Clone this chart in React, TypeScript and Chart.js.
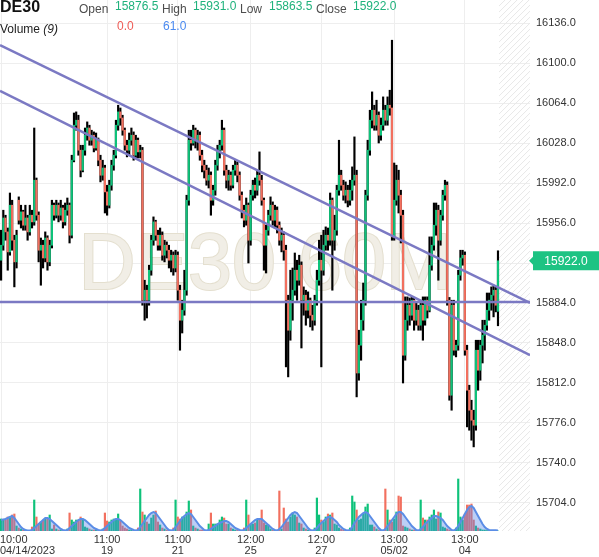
import React, { useEffect, useRef } from 'react';
import { Chart, registerables } from 'chart.js';

Chart.register(...registerables);

const FONT = '"Liberation Sans", Arial, Helvetica, sans-serif';

const symbol = 'DE30';
const watermark = 'DE30 60M';

// Hourly candles, 04/14/2023 10:00 onward
const opens = [
  15922.5, 15936, 15960.5, 15948, 15930, 15972, 15940.5, 15921, 15976.5, 15958.5,
  15966, 15954, 15960.5, 15948, 15963, 15957, 15994.5, 15963, 15931.5, 15936,
  15924.5, 15942.5, 15921, 15936, 15972, 15963, 15972, 15963, 15969.5, 15957,
  15967.5, 15972, 15945, 16012.5, 16044, 16048.5, 16021.5, 16003.5, 16021.5, 16035,
  16041.5, 16030.5, 16035, 16023.5, 16030.5, 16012.5, 15999, 16005.5, 15984, 15972,
  15990, 16008, 16017, 16044, 16056, 16050.5, 16039.5, 16026, 16021.5, 16030.5,
  16035, 16017, 16030.5, 16020, 16021.5, 15886.5, 15895.5, 15886.5, 15913.5, 15940.5,
  15957, 15945, 15936, 15945, 15927, 15936, 15931.5, 15922.5, 15927, 15915.5,
  15927, 15895.5, 15868.5, 15877.5, 15895.5, 15976.5, 16030.5, 16028, 16039.5, 16030.5,
  16035, 16017, 16008, 16003.5, 15994.5, 15999, 15976.5, 15985.5, 16008, 16021.5,
  16026, 16039.5, 16003.5, 15994.5, 15999, 15990, 16003.5, 16008, 15999, 15981,
  15967.5, 15958.5, 15972, 15940.5, 15981, 15990, 15985.5, 15999, 15994.5, 15976.5,
  15936, 15949.5, 15963, 15972, 15958.5, 15967.5, 15954, 15940.5, 15945, 15931.5,
  15886.5, 15859.5, 15886.5, 15895.5, 15913.5, 15904.5, 15918, 15886.5, 15891, 15877.5,
  15886.5, 15873, 15868.5, 15886.5, 15904.5, 15922.5, 15913.5, 15936, 15945, 15940.5,
  15976.5, 15940.5, 15949.5, 15985.5, 15999, 15990, 15981, 15985.5, 15976.5, 15985.5,
  15994.5, 15999, 15821, 15846, 15868.5, 15886.5, 15981, 16021.5, 16048.5, 16057.5,
  16044, 16053, 16035, 16044, 16057.5, 16048.5, 16062, 16059.5, 15943.5, 15976.5,
  15994.5, 15981, 15963, 15837, 15868.5, 15882, 15873, 15886.5, 15868.5, 15877.5,
  15864, 15882, 15868.5, 15886.5, 15877.5, 15918, 15936, 15954, 15967.5, 15940.5,
  15963, 15981, 15990, 15886.5, 15801, 15882, 15841.5, 15846, 15909, 15924.5,
  15927, 15841.5, 15805.5, 15787.5, 15778.5, 15774, 15841.5, 15823.5, 15846, 15855,
  15864, 15877.5, 15886.5, 15891, 15895.5, 15876.5,
];

const highs = [
  15949.5, 15967.5, 15963, 15951.5, 15983, 15976.5, 15945, 15949.5, 15979.5, 15972,
  15967.5, 15972, 15963, 15972, 15967.5, 16041.5, 15996.5, 15966, 15942.5, 15940.5,
  15948, 15944.5, 15940.5, 15976.5, 15974, 15976.5, 15974, 15976.5, 15972, 15974,
  15978.5, 15974, 16017, 16055, 16056, 16053, 16026, 16026, 16041.5, 16047,
  16044, 16039.5, 16038, 16037, 16032.5, 16017, 16012.5, 16008, 15990, 15994.5,
  16012.5, 16021.5, 16048.5, 16062, 16059.5, 16053, 16041.5, 16030.5, 16037, 16041.5,
  16038, 16035, 16032.5, 16026, 16024, 15904.5, 15900, 15918, 15945, 15961.5,
  15958.5, 15949.5, 15951.5, 15948, 15940.5, 15939, 15936, 15931.5, 15930, 15931.5,
  15930, 15900, 15886.5, 15913.5, 15981, 16039.5, 16039.5, 16044, 16041.5, 16039.5,
  16038, 16021.5, 16012.5, 16008, 16005.5, 16002, 15990, 16012.5, 16026, 16030.5,
  16048.5, 16041.5, 16008, 16003.5, 16002, 16008, 16012.5, 16011, 16002, 15984,
  15972, 15978.5, 15974, 15985.5, 15994.5, 15996.5, 16003.5, 16020, 15999, 15978.5,
  15954, 15967.5, 15979.5, 15975, 15972, 15970.5, 15957, 15951.5, 15948, 15936,
  15891, 15913.5, 15915.5, 15929, 15922.5, 15927, 15921, 15898.5, 15895.5, 15894,
  15888.5, 15882, 15891, 15913.5, 15940.5, 15945, 15949.5, 15952.5, 15951.5, 15983,
  15978.5, 15963, 15990, 16030.5, 16003.5, 15994.5, 15993, 15990, 15994.5, 16006.5,
  16033.5, 16003.5, 15859.5, 15886.5, 15902, 15985.5, 16030.5, 16057.5, 16074, 16062,
  16066.5, 16056, 16050.5, 16069.5, 16062, 16069.5, 16075.5, 16120.5, 16010, 16008,
  16003.5, 15985.5, 15967.5, 15889.5, 15889.5, 15888.5, 15889.5, 15889, 15884, 15882,
  15886.5, 15889.5, 15889.5, 15889.5, 15943.5, 15943.5, 15974, 15974, 15972, 15967.5,
  15985.5, 15994.5, 15993, 15889, 15886.5, 15886.5, 15850.5, 15913.5, 15931.5, 15931.5,
  15930, 15846, 15810, 15796.5, 15787.5, 15850.5, 15850.5, 15850.5, 15868.5, 15868.5,
  15893, 15893, 15898.5, 15900, 15898.5, 15931,
];

const lows = [
  15904.5, 15931.5, 15940.5, 15913.5, 15927, 15931.5, 15898.5, 15915.5, 15955, 15951.5,
  15949.5, 15949.5, 15940.5, 15945, 15951.5, 15954, 15958.5, 15921, 15900, 15915.5,
  15921, 15913.5, 15917.5, 15933.5, 15958.5, 15960.5, 15957, 15958.5, 15951.5, 15954,
  15963, 15938, 15942.5, 16011, 16039.5, 16017, 15997.5, 16002, 16017, 16030.5,
  16026, 16026, 16020, 16021.5, 16007.5, 15993, 15994.5, 15965, 15963, 15969.5,
  15985.5, 16003.5, 16014.5, 16039.5, 16044, 16035, 16021.5, 16015.5, 16017, 16026,
  16012.5, 16014.5, 16014.5, 16014.5, 15882, 15868.5, 15870.5, 15882, 15909, 15936,
  15940.5, 15931.5, 15931.5, 15922.5, 15921, 15924.5, 15915.5, 15912, 15909, 15912,
  15886.5, 15841.5, 15857, 15873, 15891, 15972, 16021.5, 16026, 16023.5, 16021.5,
  16012.5, 16002, 15996.5, 15990, 15987.5, 15963, 15972, 15981, 16003.5, 16014.5,
  16021.5, 15999, 15987.5, 15985.5, 15985.5, 15987.5, 15999, 15993, 15976.5, 15960.5,
  15952.5, 15954, 15920, 15936, 15976.5, 15978.5, 15981, 15990, 15972, 15913.5,
  15911, 15945, 15958.5, 15954, 15951.5, 15947, 15936, 15930, 15922.5, 15826.5,
  15817.5, 15850.5, 15868.5, 15891, 15886.5, 15900, 15843.5, 15873, 15864, 15870.5,
  15862.5, 15859.5, 15864, 15882, 15900, 15826.5, 15909, 15931.5, 15931.5, 15936,
  15895.5, 15931.5, 15945, 15981, 15985.5, 15976.5, 15974, 15970.5, 15972, 15976.5,
  15990, 15799.5, 15814.5, 15832.5, 15859.5, 15882, 15976.5, 16017, 16041.5, 16039.5,
  16039.5, 16028, 16030.5, 16039.5, 16044, 16044, 16053, 15940.5, 15940.5, 15972,
  15965, 15938, 15812, 15832.5, 15859.5, 15864, 15868.5, 15859.5, 15864, 15859.5,
  15859.5, 15850.5, 15864, 15870.5, 15876, 15913.5, 15931.5, 15945, 15904.5, 15936,
  15958.5, 15976.5, 15882, 15796.5, 15787.5, 15837, 15835.5, 15841.5, 15904.5, 15918,
  15837, 15772.5, 15769.5, 15760.5, 15754.5, 15769.5, 15805.5, 15814.5, 15830, 15841.5,
  15859.5, 15868.5, 15877.5, 15871.5, 15876, 15863.5,
];

const closes = [
  15936, 15960.5, 15948, 15930, 15972, 15940.5, 15921, 15945, 15958.5, 15966,
  15954, 15960.5, 15948, 15963, 15957, 15994.5, 15963, 15931.5, 15936, 15924.5,
  15942.5, 15921, 15936, 15972, 15963, 15972, 15963, 15969.5, 15957, 15967.5,
  15972, 15945, 16012.5, 16044, 16048.5, 16021.5, 16003.5, 16021.5, 16035, 16041.5,
  16030.5, 16035, 16023.5, 16030.5, 16012.5, 15999, 16005.5, 15984, 15972, 15990,
  16008, 16017, 16044, 16056, 16050.5, 16039.5, 16026, 16021.5, 16030.5, 16035,
  16017, 16030.5, 16020, 16021.5, 15886.5, 15895.5, 15886.5, 15913.5, 15940.5, 15957,
  15945, 15936, 15945, 15927, 15936, 15931.5, 15922.5, 15927, 15915.5, 15927,
  15895.5, 15868.5, 15877.5, 15895.5, 15976.5, 16030.5, 16028, 16039.5, 16030.5, 16035,
  16017, 16008, 16003.5, 15994.5, 15999, 15976.5, 15985.5, 16008, 16021.5, 16026,
  16039.5, 16003.5, 15994.5, 15999, 15990, 16003.5, 16008, 15999, 15981, 15967.5,
  15958.5, 15972, 15940.5, 15981, 15990, 15985.5, 15999, 15994.5, 15976.5, 15936,
  15949.5, 15963, 15972, 15958.5, 15967.5, 15954, 15940.5, 15945, 15931.5, 15886.5,
  15859.5, 15886.5, 15895.5, 15913.5, 15904.5, 15918, 15886.5, 15891, 15877.5, 15886.5,
  15873, 15868.5, 15886.5, 15904.5, 15922.5, 15913.5, 15936, 15945, 15940.5, 15976.5,
  15940.5, 15949.5, 15985.5, 15999, 15990, 15981, 15985.5, 15976.5, 15985.5, 15994.5,
  15999, 15821, 15846, 15868.5, 15886.5, 15981, 16021.5, 16048.5, 16057.5, 16044,
  16053, 16035, 16044, 16057.5, 16048.5, 16062, 16059.5, 15943.5, 15976.5, 15994.5,
  15981, 15963, 15837, 15868.5, 15882, 15873, 15886.5, 15868.5, 15877.5, 15864,
  15882, 15868.5, 15886.5, 15877.5, 15918, 15936, 15954, 15967.5, 15940.5, 15963,
  15981, 15990, 15886.5, 15801, 15882, 15841.5, 15846, 15909, 15924.5, 15927,
  15841.5, 15805.5, 15787.5, 15778.5, 15774, 15841.5, 15823.5, 15846, 15855, 15864,
  15877.5, 15886.5, 15891, 15895.5, 15882, 15922,
];

const volumes = [
  1200, 1100, 1100, 1400, 1400, 1600, 1700, 500, 300, 200, 100, 100, 50, 50,
  400, 3100, 1400, 700, 900, 1100, 1200, 1200, 1600, 200, 600, 200, 100, 100, 50, 50,
  200, 1800, 1100, 900, 1100, 1100, 1400, 1200, 400, 300, 200, 100, 100, 100, 50, 50,
  200, 1800, 1000, 900, 1100, 1200, 1200, 1700, 1000, 500, 300, 200, 100, 100, 50, 50,
  300, 4200, 1900, 1600, 900, 700, 1300, 1600, 2000, 900, 600, 300, 200, 100, 100, 50,
  300, 3100, 1400, 1200, 1400, 1400, 1900, 3000, 2100, 500, 300, 200, 100, 100, 50, 50,
  700, 1800, 700, 700, 700, 1100, 1400, 1300, 700, 700, 300, 200, 100, 100, 50, 50,
  300, 3100, 1600, 700, 700, 800, 1100, 1200, 2100, 800, 600, 600, 200, 100, 50, 50,
  4000, 200, 2300, 1200, 900, 1400, 1800, 1600, 1400, 800, 700, 300, 200, 100, 50, 50,
  300, 3300, 1600, 1100, 900, 1400, 1700, 1600, 1800, 700, 600, 300, 200, 100, 50, 50,
  300, 3500, 2900, 2100, 1100, 1200, 1700, 2400, 2700, 600, 600, 400, 200, 100, 50, 50,
  4200, 2100, 1100, 900, 1200, 1900, 3500, 3400, 500, 400, 300, 200, 100, 100, 50, 50,
  3100, 1300, 1100, 1100, 1400, 1600, 2100, 1200, 1900, 1800, 400, 300, 200, 100, 50, 50,
  300, 5200, 1400, 1100, 1700, 2600, 2600, 2700, 1100, 500, 300, 200, 100, 100, 50, 50,
  50, 50, 30, 0,
];

// Volume (9) average line
const volumeAvg = [
  1100, 1150, 1200, 1300, 1400, 1500, 1300, 1000, 700, 400, 200, 100, 50, 50,
  100, 300, 500, 700, 900, 1100, 1300, 1300, 1200, 1000, 800, 600, 400, 200, 100, 50,
  100, 300, 500, 700, 900, 1100, 1200, 1200, 1100, 900, 700, 500, 300, 200, 100, 50,
  100, 300, 500, 700, 900, 1100, 1200, 1200, 1100, 900, 700, 500, 300, 200, 100, 50,
  100, 400, 700, 1000, 1300, 1600, 1800, 1900, 1800, 1500, 1200, 900, 600, 300, 100, 50,
  100, 400, 700, 1000, 1300, 1500, 1700, 1800, 1700, 1400, 1100, 800, 500, 300, 100, 50,
  100, 200, 400, 500, 700, 800, 900, 1000, 1000, 900, 700, 500, 300, 200, 100, 50,
  100, 300, 500, 700, 900, 1100, 1200, 1200, 1200, 1000, 800, 600, 400, 200, 100, 50,
  200, 400, 700, 1000, 1300, 1600, 1800, 1900, 1800, 1500, 1200, 900, 600, 300, 100, 50,
  100, 300, 600, 800, 1000, 1200, 1400, 1400, 1300, 1100, 900, 600, 400, 200, 100, 50,
  100, 400, 800, 1100, 1400, 1600, 1800, 1900, 1800, 1500, 1200, 900, 600, 300, 100, 50,
  200, 500, 800, 1100, 1400, 1700, 1900, 1900, 1700, 1400, 1100, 800, 500, 300, 100, 50,
  200, 400, 700, 900, 1100, 1300, 1500, 1500, 1400, 1300, 1100, 800, 500, 300, 100, 50,
  200, 500, 900, 1300, 1700, 2100, 2400, 2500, 2300, 1900, 1500, 1100, 700, 400, 200, 100,
  80, 70, 65, 61,
];

const priceTicks = [15704, 15740, 15776, 15812, 15848, 15884, 15920, 15956, 15992, 16028, 16064, 16100, 16136];
const priceMin = 15678.8;
const priceMax = 16156.7;
const volumeMax = 53100;

const timeTickIndex = [0, 48, 80, 113, 145, 178, 210];
const timeTickHour = ['10:00', '11:00', '11:00', '12:00', '12:00', '13:00', '13:00'];
const timeTickDate = ['04/14/2023', '19', '21', '25', '27', '05/02', '04'];
const slotCount = 240; // candle slots across the plot, incl. the empty future area

// drawn lines: price at the left edge and at the right edge of the plot
const channelUpper = [16116, 15884];
const channelLower = [16075, 15837];
const supportLevel = [15885, 15885];

const GREEN = '#0ec27a';
const RED = '#f2705f';
const PURPLE = '#7b79c3';
const TAG_GREEN = '#1dc383';

function Txt(props: { x: number; base: number; size?: number; color?: string; bold?: boolean; children: React.ReactNode }) {
  const size = props.size ?? 12;
  return (
    <span
      style={{
        position: 'absolute',
        left: props.x,
        top: props.base - 0.8465 * size,
        fontSize: size,
        lineHeight: `${size}px`,
        fontFamily: FONT,
        color: props.color ?? '#4d4d4d',
        fontWeight: props.bold ? 'bold' : 'normal',
        whiteSpace: 'nowrap',
      }}
    >
      {props.children}
    </span>
  );
}

export default function App() {
  const ref = useRef<HTMLCanvasElement>(null);

  useEffect(() => {
    const canvas = ref.current;
    if (!canvas) return;
    const n = closes.length;
    const idx = closes.map((_, i) => i);
    const up = closes.map((c, i) => c >= opens[i]);
    const edgeL = -0.5;
    const edgeR = slotCount - 0.5;

    const overlay = {
      id: 'overlay',
      beforeDatasetsDraw(chart: any) {
        const { ctx, chartArea: a, scales } = chart;
        const xs = scales.x;
        // watermark
        ctx.save();
        ctx.font = `79px ${FONT}`;
        ctx.textAlign = 'center';
        ctx.textBaseline = 'alphabetic';
        ctx.lineWidth = 2;
        ctx.strokeStyle = '#e4dfcf';
        ctx.fillStyle = '#f1eee6';
        const cx = (a.left + a.right) / 2;
        const by = (a.top + a.bottom) / 2 + 23;
        ctx.strokeText(watermark, cx, by);
        ctx.fillText(watermark, cx, by);
        ctx.restore();
        // hatched future area
        const hx = xs.getPixelForValue(n - 0.5);
        ctx.save();
        ctx.beginPath();
        ctx.rect(hx, a.top, a.right - hx, a.bottom - a.top);
        ctx.clip();
        ctx.strokeStyle = '#e8e8e8';
        ctx.lineWidth = 1;
        const H = a.bottom - a.top;
        ctx.beginPath();
        for (let k = hx - H; k < a.right + 6; k += 6) {
          ctx.moveTo(k, a.bottom);
          ctx.lineTo(k + H, a.top);
        }
        ctx.stroke();
        ctx.restore();
      },
      afterDraw(chart: any) {
        const { ctx, chartArea: a, scales } = chart;
        const xs = scales.x;
        const ys = scales.y;
        // time axis labels
        ctx.save();
        ctx.font = `11px ${FONT}`;
        ctx.fillStyle = '#333';
        ctx.textBaseline = 'alphabetic';
        ctx.textAlign = 'left';
        timeTickIndex.forEach((v, k) => {
          const px = xs.getPixelForValue(v);
          [timeTickHour[k], timeTickDate[k]].forEach((t, line) => {
            const w = ctx.measureText(t).width;
            const left = Math.max(0, px - w / 2);
            ctx.fillText(t, left, a.bottom + 12 + line * 10.5);
          });
        });
        ctx.restore();
        // last price tag
        const last = n - 1;
        const py = ys.getPixelForValue(closes[last]);
        const x0 = a.right + 3;
        const x1 = chart.width;
        ctx.save();
        ctx.fillStyle = up[last] ? TAG_GREEN : RED;
        ctx.beginPath();
        ctx.moveTo(a.right - 1, py);
        ctx.lineTo(x0, py - 4);
        ctx.lineTo(x0, py - 9.5);
        ctx.lineTo(x1, py - 9.5);
        ctx.lineTo(x1, py + 9.5);
        ctx.lineTo(x0, py + 9.5);
        ctx.lineTo(x0, py + 4);
        ctx.closePath();
        ctx.fill();
        ctx.fillStyle = '#fff';
        ctx.font = `12px ${FONT}`;
        ctx.textAlign = 'center';
        ctx.textBaseline = 'middle';
        ctx.fillText(closes[last].toFixed(1), (x0 + x1) / 2, py + 0.5);
        ctx.restore();
      },
    };

    const line = (data: number[]) => [
      { x: edgeL, y: data[0] },
      { x: edgeR, y: data[1] },
    ];

    const chart = new Chart(canvas, {
      type: 'bar',
      data: {
        datasets: [
          { type: 'line', data: line(channelUpper), borderColor: PURPLE, borderWidth: 2.5, pointRadius: 0, yAxisID: 'y', order: 0 } as any,
          { type: 'line', data: line(channelLower), borderColor: PURPLE, borderWidth: 2.5, pointRadius: 0, yAxisID: 'y', order: 0 } as any,
          { type: 'line', data: line(supportLevel), borderColor: PURPLE, borderWidth: 2.5, pointRadius: 0, yAxisID: 'y', order: 0 } as any,
          {
            type: 'bar',
            data: idx.map((i) => ({ x: i, y: [opens[i], closes[i]] })),
            backgroundColor: up.map((u) => (u ? GREEN : RED)),
            barThickness: 1.5,
            grouped: false,
            minBarLength: 1,
            yAxisID: 'y',
            order: 1,
          } as any,
          {
            type: 'bar',
            data: idx.map((i) => ({ x: i, y: [lows[i], highs[i]] })),
            backgroundColor: '#000',
            barThickness: 1.5,
            grouped: false,
            yAxisID: 'y',
            order: 2,
          } as any,
          {
            type: 'line',
            data: idx.map((i) => ({ x: i, y: volumeAvg[i] })),
            yAxisID: 'yVol',
            fill: 'origin',
            backgroundColor: 'rgba(88,134,232,0.40)',
            borderColor: '#5b8de6',
            borderWidth: 2,
            pointRadius: 0,
            tension: 0,
            order: 3,
          } as any,
          {
            type: 'bar',
            data: idx.map((i) => ({ x: i, y: volumes[i] })),
            backgroundColor: up.map((u) => (u ? GREEN : RED)),
            barThickness: 1.5,
            grouped: false,
            yAxisID: 'yVol',
            order: 4,
          } as any,
        ],
      },
      options: {
        responsive: false,
        animation: false,
        devicePixelRatio: 1,
        events: [],
        layout: { padding: { left: 0, right: 0, top: 0, bottom: 26 } },
        plugins: { legend: { display: false }, tooltip: { enabled: false } },
        scales: {
          x: {
            type: 'linear',
            min: edgeL,
            max: edgeR,
            offset: false,
            grid: { color: '#eeeeee', offset: false, drawTicks: false },
            border: { display: false },
            ticks: { display: false },
            afterBuildTicks: (s: any) => {
              s.ticks = timeTickIndex.map((v) => ({ value: v }));
            },
            afterFit: (s: any) => {
              s.height = 0;
              s.paddingLeft = 0;
              s.paddingRight = 0;
            },
          },
          y: {
            type: 'linear',
            position: 'right',
            min: priceMin,
            max: priceMax,
            grid: { color: '#eeeeee', drawTicks: false },
            border: { display: false },
            ticks: {
              padding: 6,
              color: '#333',
              font: { family: FONT, size: 11 },
              callback: (v: any) => Number(v).toFixed(1),
            },
            afterBuildTicks: (s: any) => {
              s.ticks = priceTicks.map((v) => ({ value: v }));
            },
            afterFit: (s: any) => {
              s.width = 69;
              s.paddingTop = 0;
              s.paddingBottom = 0;
            },
          },
          yVol: {
            type: 'linear',
            position: 'left',
            display: false,
            min: 0,
            max: volumeMax,
          },
        },
      } as any,
      plugins: [overlay as any],
    });
    return () => chart.destroy();
  }, []);

  const last = closes.length - 1;
  return (
    <div style={{ position: 'fixed', left: 0, top: 0, width: 599, height: 557, background: '#fff', overflow: 'hidden' }}>
      <canvas ref={ref} width={599} height={557} style={{ position: 'absolute', left: 0, top: 0, display: 'block' }} />
      <Txt x={0} base={13} size={16} bold color="#111">{symbol}</Txt>
      <Txt x={79} base={13}>Open</Txt>
      <Txt x={115} base={10} color="#1fb27c">{opens[last].toFixed(1)}</Txt>
      <Txt x={162} base={13}>High</Txt>
      <Txt x={193} base={10} color="#1fb27c">{highs[last].toFixed(1)}</Txt>
      <Txt x={240} base={13}>Low</Txt>
      <Txt x={269} base={10} color="#1fb27c">{lows[last].toFixed(1)}</Txt>
      <Txt x={316} base={13}>Close</Txt>
      <Txt x={353} base={10} color="#1fb27c">{closes[last].toFixed(1)}</Txt>
      <Txt x={0} base={33.5} color="#222">
        Volume <i>(9)</i>
      </Txt>
      <Txt x={117} base={30} color="#ee5b55">{volumes[last].toFixed(1)}</Txt>
      <Txt x={163} base={30} color="#4a8af0">{volumeAvg[last].toFixed(1)}</Txt>
    </div>
  );
}
